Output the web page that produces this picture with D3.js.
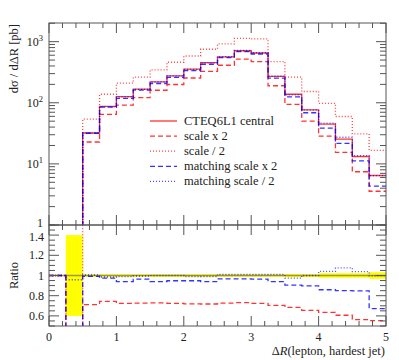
<!DOCTYPE html>
<html>
<head>
<meta charset="utf-8">
<script src="https://cdn.jsdelivr.net/npm/d3@7"></script>
<style>
  html, body { margin: 0; padding: 0; background: #fff; }
  svg { display: block; }
  text { font-family: "Liberation Serif", "DejaVu Serif", serif; fill: #222; }
</style>
</head>
<body>
<svg id="chart" width="399" height="360"></svg>
<script>
// ---- data ----
const binEdges = [0, 0.25, 0.5, 0.75, 1.0, 1.25, 1.5, 1.75, 2.0, 2.25, 2.5, 2.75, 3.0, 3.25, 3.5, 3.75, 4.0, 4.25, 4.5, 4.75, 5.0];
const central   = [0, 0.5, 32, 87, 126, 167, 220, 275, 354, 454, 565, 710, 652, 270, 138, 76.5, 44.7, 25.4, 13.2, 6.46];
const scaleUp   = [0, 0, 22.8, 64.7, 91.2, 121.4, 160.2, 199.1, 254.2, 326, 411, 519, 472, 190, 94.5, 50.1, 28.4, 15.4, 7.43, 3.57];
const scaleDown = [0, 0, 54, 138, 209, 262, 345, 460, 583, 751, 917, 1136, 1107, 471, 262, 153, 98, 59.6, 31, 16.6];
const matchUp   = [0, 0, 31.7, 84.7, 118.4, 161, 206.8, 260.7, 335.6, 426.8, 546.4, 686.6, 628.5, 253.8, 124.9, 68.7, 38.4, 21.6, 11.2, 4.34];
const matchDown = [0, 0.479, 32.16, 85.7, 124.7, 166.2, 220, 275, 350.5, 449.5, 570.7, 717.1, 658.5, 272.7, 134.4, 76.5, 46.5, 27.3, 13.7, 6.43];
const statErr   = [0, 0.4, 0.012, 0.012, 0.012, 0.012, 0.012, 0.012, 0.012, 0.012, 0.012, 0.012, 0.012, 0.012, 0.015, 0.015, 0.022, 0.022, 0.022, 0.033];
const legendLabels = ["CTEQ6L1 central", "scale x 2", "scale / 2", "matching scale x 2", "matching scale / 2"];
const xTickLabels = [0, 1, 2, 3, 4, 5];
const ratioTickLabels = [0.6, 0.8, 1, 1.2, 1.4];
const logTickLabels = [1, 10, 100, 1000];

// ---- layout ----
const svg = d3.select("#chart");
const L = 49, R = 386, T = 23, MID = 225, B = 326;
const frameCol = "#555";

const x = d3.scaleLinear().domain([0, 5]).range([L, R]);
const y = d3.scaleLog().domain([1, 2020]).range([MID, T]);
const yr = d3.scaleLinear().domain([0.5, 1.5]).range([B, MID]);

const defs = svg.append("defs");
defs.append("clipPath").attr("id", "clipTop").append("rect")
  .attr("x", L).attr("y", T).attr("width", R - L).attr("height", MID - T);
defs.append("clipPath").attr("id", "clipRatio").append("rect")
  .attr("x", L).attr("y", MID).attr("width", R - L).attr("height", B - MID);

const series = [
  { vals: central,   color: "rgba(255,0,0,0.8)",  dash: null,  rcolor: "#a09a28" },
  { vals: scaleUp,   color: "rgba(255,0,0,0.8)",  dash: "5,3", rcolor: "rgba(255,0,0,0.8)" },
  { vals: scaleDown, color: "rgba(255,0,0,0.75)", dash: "1,2", rcolor: "rgba(255,0,0,0.75)" },
  { vals: matchUp,   color: "rgba(0,0,255,0.8)",  dash: "5,3", rcolor: "rgba(0,0,255,0.8)" },
  { vals: matchDown, color: "rgba(0,0,255,0.7)",  dash: "1,2", rcolor: "rgba(0,0,255,0.7)" }
];

function stepPoints(vals, f) {
  const pts = [];
  vals.forEach((v, i) => {
    const yy = f(v, i);
    pts.push([binEdges[i], yy]);
    pts.push([binEdges[i + 1], yy]);
  });
  return pts;
}

// ---- top panel ----
const gTop = svg.append("g").attr("clip-path", "url(#clipTop)");
const lineTop = d3.line().x(d => x(d[0])).y(d => y(d[1]));
series.forEach(s => {
  gTop.append("path")
    .attr("d", lineTop(stepPoints(s.vals, v => v > 0 ? v : 1e-3)))
    .attr("fill", "none").attr("stroke", s.color).attr("stroke-width", 1.3)
    .attr("stroke-dasharray", s.dash);
});

// ---- ratio panel ----
const gRat = svg.append("g").attr("clip-path", "url(#clipRatio)");
gRat.selectAll("rect.band").data(statErr).join("rect")
  .attr("class", "band")
  .attr("x", (d, i) => x(binEdges[i]))
  .attr("width", (d, i) => x(binEdges[i + 1]) - x(binEdges[i]))
  .attr("y", d => yr(1 + d))
  .attr("height", d => yr(1 - d) - yr(1 + d))
  .attr("fill", "#ffff00");
const lineRat = d3.line().x(d => x(d[0])).y(d => yr(d[1]));
series.forEach(s => {
  gRat.append("path")
    .attr("d", lineRat(stepPoints(s.vals, (v, i) => central[i] > 0 ? v / central[i] : 1)))
    .attr("fill", "none").attr("stroke", s.rcolor).attr("stroke-width", 1.3)
    .attr("stroke-dasharray", s.dash);
});

// ---- frames ----
const gAx = svg.append("g").attr("stroke", frameCol).attr("fill", "none").attr("stroke-width", 1);
gAx.append("rect").attr("x", L).attr("y", T).attr("width", R - L).attr("height", MID - T);
gAx.append("rect").attr("x", L).attr("y", MID).attr("width", R - L).attr("height", B - MID);

// x ticks (minor every 0.2, major at integers), on all horizontal edges
const xMinor = d3.range(0, 26).map(k => k * 0.2).filter(v => Math.abs(v - Math.round(v)) > 1e-6);
function xTicks(yEdge, dir) {
  xMinor.forEach(v => gAx.append("line").attr("x1", x(v)).attr("x2", x(v)).attr("y1", yEdge).attr("y2", yEdge + dir * 5));
  xTickLabels.forEach(v => gAx.append("line").attr("x1", x(v)).attr("x2", x(v)).attr("y1", yEdge).attr("y2", yEdge + dir * 10));
}
xTicks(T, 1); xTicks(MID, -1); xTicks(MID, 1); xTicks(B, -1);

// log y ticks
const logMinor = [];
[1, 10, 100, 1000].forEach(dec => { for (let k = 2; k <= 9; k++) { if (dec * k <= 2020) logMinor.push(dec * k); } });
[[L, 1], [R, -1]].forEach(([xe, dir]) => {
  logMinor.forEach(v => gAx.append("line").attr("x1", xe).attr("x2", xe + dir * 6).attr("y1", y(v)).attr("y2", y(v)));
  logTickLabels.forEach(v => gAx.append("line").attr("x1", xe).attr("x2", xe + dir * 10).attr("y1", y(v)).attr("y2", y(v)));
});
// ratio y ticks
const rMinor = d3.range(0, 21).map(k => 0.5 + k * 0.05).filter(v => !ratioTickLabels.some(t => Math.abs(t - v) < 1e-6));
[[L, 1], [R, -1]].forEach(([xe, dir]) => {
  rMinor.forEach(v => gAx.append("line").attr("x1", xe).attr("x2", xe + dir * 6).attr("y1", yr(v)).attr("y2", yr(v)));
  ratioTickLabels.forEach(v => gAx.append("line").attr("x1", xe).attr("x2", xe + dir * 10).attr("y1", yr(v)).attr("y2", yr(v)));
});

// ---- tick labels ----
const fs = 12;
xTickLabels.forEach(v => {
  svg.append("text").attr("x", x(v)).attr("y", 341).attr("text-anchor", "middle")
    .attr("font-size", fs).text(v);
});
logTickLabels.forEach(v => {
  const t = svg.append("text").attr("x", 43).attr("y", y(v) + (v === 1 ? 2 : 4)).attr("text-anchor", "end").attr("font-size", fs);
  if (v === 1) { t.text("1"); }
  else {
    t.append("tspan").text("10");
    t.append("tspan").attr("dy", -5).attr("font-size", 8.5).text(Math.round(Math.log10(v)));
  }
});
ratioTickLabels.forEach(v => {
  svg.append("text").attr("x", 44).attr("y", yr(v) + (v === 1.4 ? 6 : 4)).attr("text-anchor", "end")
    .attr("font-size", fs).text(v === 1 ? "1" : v.toFixed(1));
});

// ---- axis titles ----
svg.append("text").attr("transform", "translate(18,24) rotate(-90)").attr("text-anchor", "end")
  .attr("font-size", 12.5).text("dσ / dΔR [pb]");
svg.append("text").attr("transform", `translate(18,${yr(1)}) rotate(-90)`).attr("text-anchor", "middle")
  .attr("font-size", 12.5).text("Ratio");
const xl = svg.append("text").attr("x", 385).attr("y", 355).attr("text-anchor", "end").attr("font-size", 12.5);
xl.append("tspan").text("Δ");
xl.append("tspan").attr("font-style", "italic").text("R");
xl.append("tspan").text("(lepton, hardest jet)");

// ---- legend ----
const legY0 = 121, legDy = 15.1;
series.forEach((s, i) => {
  const yy = legY0 + i * legDy;
  svg.append("line").attr("x1", 150).attr("x2", 177).attr("y1", yy).attr("y2", yy)
    .attr("stroke", s.color).attr("stroke-width", 1.3).attr("stroke-dasharray", s.dash);
  svg.append("text").attr("x", 184).attr("y", yy + 4).attr("font-size", 12.5).text(legendLabels[i]);
});
</script>
</body>
</html>
